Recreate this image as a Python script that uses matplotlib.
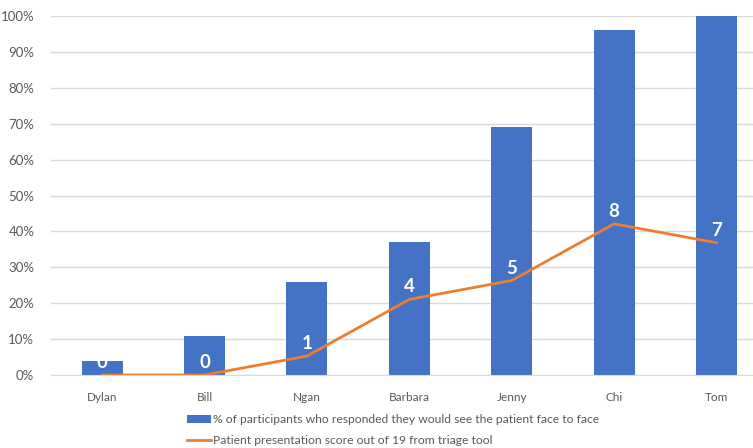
import matplotlib.pyplot as plt
import numpy as np
from matplotlib.ticker import PercentFormatter

plt.rcParams['font.family'] = ['Lato', 'DejaVu Sans']

# Patients and responses
patients = ['Dylan', 'Bill', 'Ngan', 'Barbara', 'Jenny', 'Chi', 'Tom']
face_to_face = [0.04, 0.11, 0.26, 0.37, 0.69, 0.96, 1.00]  # share of participants
scores = [0, 0, 1, 4, 5, 8, 7]  # triage tool score out of 19
max_score = 19

bar_label = '% of participants who responded they would see the patient face to face'
line_label = 'Patient presentation score out of 19 from triage tool'

blue = '#4472C4'
orange = '#ED7D31'
grey_text = '#595959'
grid_col = '#D9D9D9'

x = np.arange(len(patients))
score_frac = np.array(scores) / max_score

fig = plt.figure(figsize=(7.53, 4.48), dpi=100)
ax = fig.add_axes([51 / 753, 1 - 375 / 448, 1 - 51 / 753, (375 - 16) / 448])

bars = ax.bar(x, face_to_face, width=0.4, color=blue, zorder=2)
line, = ax.plot(x, score_frac, color=orange, lw=2, zorder=3)

# score labels sit just above each point of the line
for xi, yi, s in zip(x, score_frac, scores):
    ax.annotate(str(s), (xi, yi), xytext=(0, 9), textcoords='offset points',
                ha='center', va='center', color='white', fontsize=13.5,
                fontweight='bold', zorder=4)

ax.set_xlim(-0.5, 6.357)
ax.set_ylim(0, 1.0)
ax.set_yticks(np.arange(0, 1.01, 0.1))
ax.yaxis.set_major_formatter(PercentFormatter(1.0, decimals=0))
ax.set_xticks(x)
ax.set_xticklabels(patients)

ax.grid(axis='y', color=grid_col, lw=1, zorder=0)
ax.set_axisbelow(True)
for side in ['top', 'right', 'left']:
    ax.spines[side].set_visible(False)
ax.spines['bottom'].set_color(grid_col)
ax.tick_params(axis='both', length=0, colors=grey_text, labelsize=8.5)
ax.tick_params(axis='y', pad=12, labelsize=9.5)
ax.tick_params(axis='x', pad=12)

leg = fig.legend([bars, line], [bar_label, line_label], loc='center',
                 bbox_to_anchor=(393 / 753, 1 - 430 / 448),
                 ncol=1, frameon=False, fontsize=8.75, handlelength=2.0,
                 handleheight=0.7, handletextpad=0.2, labelspacing=0.8)
for t in leg.get_texts():
    t.set_color(grey_text)

fig.savefig('out.png', dpi=100)
